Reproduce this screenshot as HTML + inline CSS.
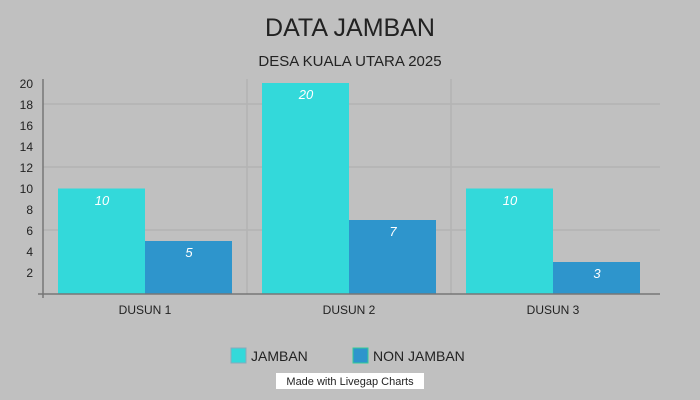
<!DOCTYPE html>
<html><head><style>html,body{margin:0;padding:0;background:#c0c0c0;width:700px;height:400px;overflow:hidden}svg{display:block}</style></head><body>
<svg width="700" height="400" xmlns="http://www.w3.org/2000/svg" font-family="Liberation Sans, sans-serif">
<rect width="700" height="400" fill="#c0c0c0"/>
<text x="350" y="36" text-anchor="middle" font-size="25" fill="#222">DATA JAMBAN</text>
<text x="350" y="66" text-anchor="middle" font-size="15" fill="#222">DESA KUALA UTARA 2025</text>
<g stroke="#b3b3b3" stroke-width="1.5">
<line x1="43" y1="104" x2="660" y2="104"/><line x1="43" y1="167" x2="660" y2="167"/><line x1="43" y1="230" x2="660" y2="230"/>
<line x1="247" y1="79" x2="247" y2="294"/><line x1="451" y1="79" x2="451" y2="294"/>
</g>
<rect x="58" y="188.5" width="87" height="105.5" fill="#33d9da"/>
<rect x="145" y="241" width="87" height="53" fill="#2e95cc"/>
<rect x="262" y="83" width="87" height="211" fill="#33d9da"/>
<rect x="349" y="220" width="87" height="74" fill="#2e95cc"/>
<rect x="466" y="188.5" width="87" height="105.5" fill="#33d9da"/>
<rect x="553" y="262" width="87" height="32" fill="#2e95cc"/>
<g fill="#fff" font-size="13" font-style="italic" text-anchor="middle">
<text x="102" y="205">10</text><text x="189" y="257">5</text>
<text x="306" y="99">20</text><text x="393" y="236">7</text>
<text x="510" y="205">10</text><text x="597" y="278">3</text>
</g>
<g stroke="#777" stroke-width="1.5">
<line x1="43" y1="79" x2="43" y2="298"/><line x1="38" y1="294" x2="660" y2="294"/>
</g>
<g font-size="12" fill="#222" text-anchor="end">
<text x="33" y="88">20</text><text x="33" y="109">18</text><text x="33" y="130">16</text><text x="33" y="151">14</text><text x="33" y="172">12</text><text x="33" y="193">10</text><text x="33" y="214">8</text><text x="33" y="235">6</text><text x="33" y="256">4</text><text x="33" y="277">2</text>
</g>
<g font-size="12" fill="#222" text-anchor="middle">
<text x="145" y="314">DUSUN 1</text><text x="349" y="314">DUSUN 2</text><text x="553" y="314">DUSUN 3</text>
</g>
<rect x="231" y="348" width="15" height="15" fill="#33d9da" stroke="#8ab" stroke-width="1"/>
<text x="251" y="361" font-size="14" fill="#222">JAMBAN</text>
<rect x="353" y="348" width="15" height="15" fill="#2e95cc" stroke="#3c9" stroke-width="1"/>
<text x="373" y="361" font-size="14" fill="#222">NON JAMBAN</text>
<rect x="276" y="373" width="148" height="16" fill="#fff"/>
<text x="350" y="385" text-anchor="middle" font-size="11" fill="#222">Made with Livegap Charts</text>
</svg>
</body></html>
